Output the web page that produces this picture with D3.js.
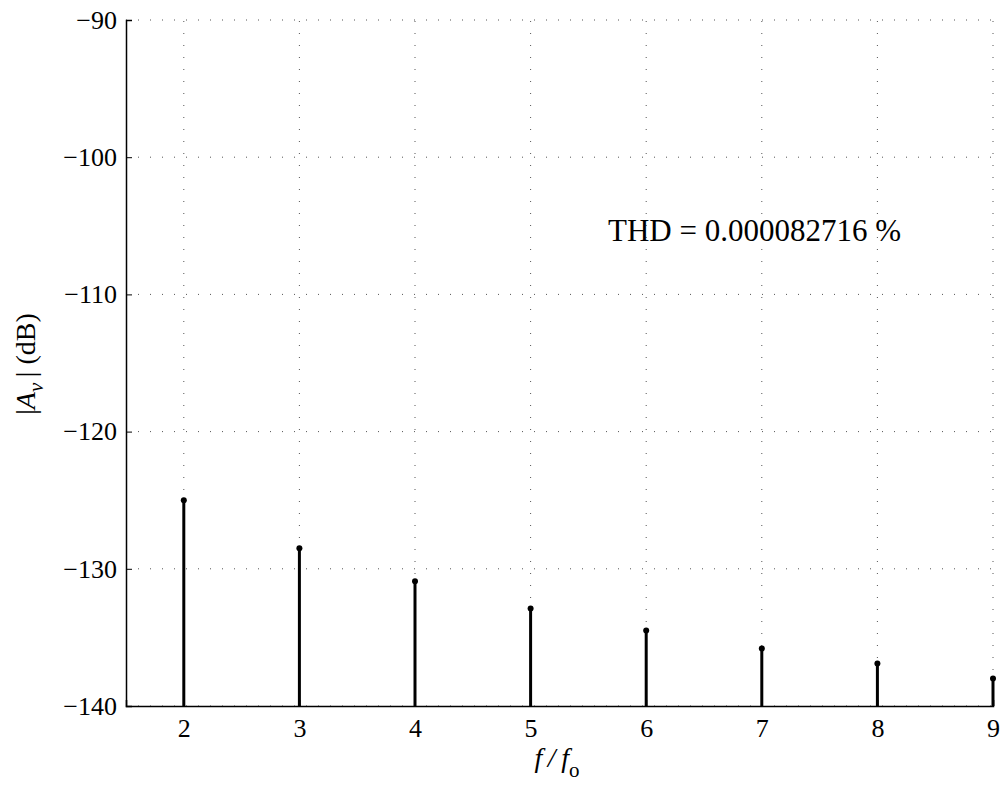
<!DOCTYPE html>
<html>
<head>
<meta charset="utf-8">
<script src="https://cdn.jsdelivr.net/npm/d3@7"></script>
<style>
  body { margin: 0; background: #fff; }
  svg text { font-family: "Liberation Serif", "DejaVu Serif", serif !important; fill: #000; }
</style>
</head>
<body>
<div class="container"></div>
<script>
// harmonics and their magnitude (dB)
var harmonics = [2, 3, 4, 5, 6, 7, 8, 9];
var magnitudes = [-125.0, -128.5, -130.9, -132.9, -134.5, -135.8, -136.9, -138.0];
var yTicks = [-140, -130, -120, -110, -100, -90];
var xTicks = [2, 3, 4, 5, 6, 7, 8, 9];
var thdText = "THD = 0.000082716 %";

const WIDTH = 1003;
const HEIGHT = 785;
const LEFT = 126, TOP = 20, RIGHT = 993, BOTTOM = 706;
const SERIF = '"Liberation Serif", serif';

var svg = d3.select('.container').append('svg')
  .attr('width', WIDTH)
  .attr('height', HEIGHT);

var xScale = d3.scaleLinear()
  .domain([1.5, 9])
  .range([LEFT, RIGHT]);

var yScale = d3.scaleLinear()
  .domain([-140, -90])
  .range([BOTTOM, TOP]);

// dotted grid
var grid = svg.append('g');
grid.selectAll('line.h')
  .data(yTicks)
  .enter().append('line')
  .attr('x1', LEFT).attr('x2', RIGHT)
  .attr('y1', function(d){ return yScale(d); })
  .attr('y2', function(d){ return yScale(d); })
  .attr('stroke', '#555')
  .attr('stroke-width', 1)
  .attr('stroke-dasharray', '1,11');
grid.selectAll('line.v')
  .data(xTicks)
  .enter().append('line')
  .attr('y1', BOTTOM).attr('y2', TOP)
  .attr('x1', function(d){ return xScale(d); })
  .attr('x2', function(d){ return xScale(d); })
  .attr('stroke', '#555')
  .attr('stroke-width', 1)
  .attr('stroke-dasharray', '1,11');

// axes with inward ticks
var yAxis = d3.axisLeft(yScale).tickValues(yTicks).tickSize(-6).tickPadding(9)
  .tickFormat(function(d){ return String(d).replace('-', '\u2212'); });
var xAxis = d3.axisBottom(xScale).tickValues(xTicks).tickSize(-6).tickPadding(13);

var gy = svg.append('g').attr('transform', 'translate(' + LEFT + ',0)').call(yAxis);
var gx = svg.append('g').attr('transform', 'translate(0,' + BOTTOM + ')').call(xAxis);

[gx, gy].forEach(function(g){
  g.attr('font-family', null).attr('font-size', null);
  g.select('.domain').attr('stroke', '#000').attr('stroke-width', 1.5);
  g.selectAll('.tick line').attr('stroke', '#000');
  g.selectAll('.tick text')
    .style('font-size', '26px')
    .style('font-family', SERIF);
});

// stems
svg.append('g').selectAll('line')
  .data(harmonics)
  .enter().append('line')
  .attr('x1', function(d){ return xScale(d); })
  .attr('x2', function(d){ return xScale(d); })
  .attr('y1', yScale(-140))
  .attr('y2', function(d, i){ return yScale(magnitudes[i]); })
  .attr('stroke', '#000')
  .attr('stroke-width', 3);

svg.append('g').selectAll('circle')
  .data(harmonics)
  .enter().append('circle')
  .attr('cx', function(d){ return xScale(d); })
  .attr('cy', function(d, i){ return yScale(magnitudes[i]); })
  .attr('r', 3)
  .attr('fill', '#000');

// annotation
svg.append('text')
  .attr('x', xScale(5.67))
  .attr('y', yScale(-106.1))
  .style('font-size', '31px')
  .text(thdText);

// axis labels
var xl = svg.append('text')
  .attr('x', 557)
  .attr('y', 767)
  .attr('text-anchor', 'middle')
  .style('font-size', '28px');
xl.append('tspan').attr('font-style', 'italic').text('f');
xl.append('tspan').attr('font-style', 'italic').text('\u2009/\u2009');
xl.append('tspan').attr('font-style', 'italic').text('f');
xl.append('tspan').style('font-size', '21px').attr('dy', 10).text('o');

var yl = svg.append('text')
  .attr('transform', 'translate(35,364) rotate(-90)')
  .attr('text-anchor', 'middle')
  .style('font-size', '28px');
yl.append('tspan').text('|');
yl.append('tspan').attr('font-style', 'italic').text('A');
yl.append('tspan').attr('font-style', 'italic').style('font-size', '21px').attr('dy', 8).text('v');
yl.append('tspan').attr('dy', -8).text('\u2009| (dB)');
</script>
</body>
</html>
